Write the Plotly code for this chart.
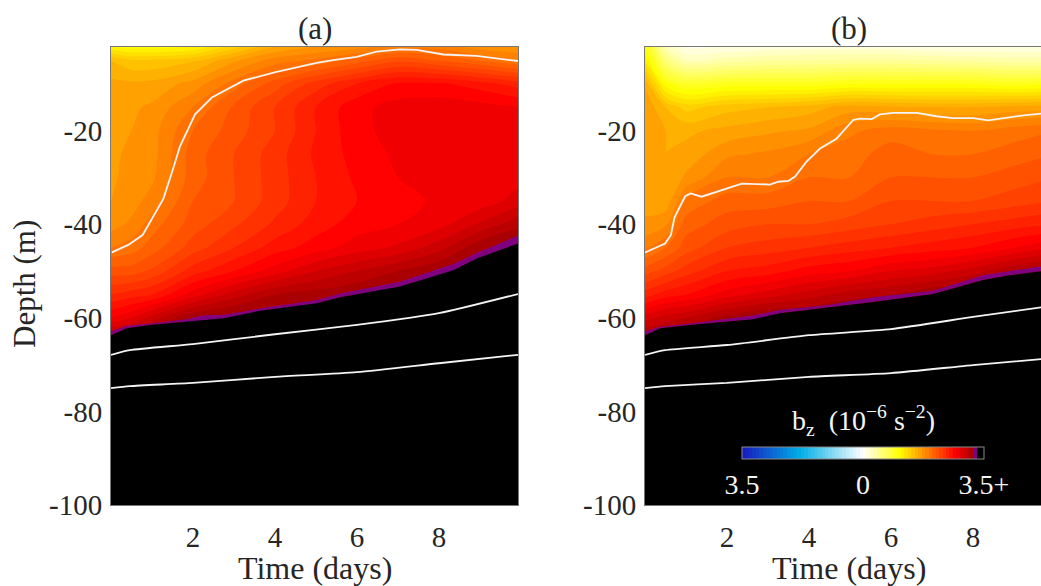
import plotly.graph_objects as go

# ---------- shared grid ----------
times = [0, 0.5, 1, 2, 3, 4, 5, 6, 7, 8, 9, 10]
depths = [-2, -5, -10, -15, -20, -25, -30, -35, -40, -45, -50, -55, -60, -65]

# b_z columns (one per time), rows by depth
field_a_cols = [
    [1.10, 1.50, 1.63, 1.68, 1.68, 1.68, 1.68, 1.70, 1.76, 1.90, 2.15, 2.40, 2.70, 3.20],
    [1.05, 1.42, 1.62, 1.68, 1.70, 1.72, 1.74, 1.76, 1.82, 1.95, 2.15, 2.45, 2.80, 3.20],
    [1.05, 1.42, 1.63, 1.72, 1.76, 1.76, 1.78, 1.84, 1.95, 2.05, 2.22, 2.50, 2.95, 3.20],
    [1.10, 1.48, 1.74, 1.90, 2.00, 2.05, 2.05, 2.10, 2.15, 2.25, 2.45, 2.75, 3.20, 3.30],
    [1.35, 1.68, 1.95, 2.12, 2.15, 2.20, 2.20, 2.20, 2.28, 2.40, 2.60, 2.95, 3.25, 3.30],
    [1.60, 1.85, 2.15, 2.30, 2.30, 2.35, 2.35, 2.35, 2.42, 2.55, 2.75, 3.10, 3.30, 3.30],
    [1.70, 1.92, 2.35, 2.50, 2.50, 2.52, 2.50, 2.50, 2.55, 2.65, 2.90, 3.15, 3.30, 3.30],
    [1.75, 2.05, 2.50, 2.67, 2.67, 2.64, 2.62, 2.60, 2.65, 2.75, 3.00, 3.20, 3.30, 3.30],
    [1.85, 2.18, 2.62, 2.74, 2.74, 2.72, 2.70, 2.66, 2.70, 2.82, 3.10, 3.30, 3.30, 3.30],
    [1.85, 2.10, 2.62, 2.76, 2.78, 2.76, 2.74, 2.72, 2.76, 2.96, 3.20, 3.30, 3.30, 3.30],
    [1.75, 2.00, 2.55, 2.74, 2.76, 2.76, 2.74, 2.74, 2.92, 3.18, 3.30, 3.30, 3.30, 3.30],
    [1.70, 1.90, 2.45, 2.70, 2.74, 2.78, 2.78, 2.85, 3.08, 3.25, 3.30, 3.30, 3.30, 3.30],
]
field_b_cols = [
    [1.00, 1.20, 1.58, 1.68, 1.68, 1.66, 1.63, 1.66, 1.72, 1.88, 2.15, 2.45, 2.85, 3.20],
    [0.30, 0.55, 1.05, 1.50, 1.60, 1.60, 1.60, 1.63, 1.78, 2.00, 2.25, 2.55, 2.95, 3.20],
    [0.08, 0.30, 0.90, 1.36, 1.58, 1.63, 1.72, 1.92, 2.05, 2.15, 2.35, 2.60, 3.00, 3.20],
    [0.10, 0.35, 0.95, 1.46, 1.63, 1.78, 1.90, 2.05, 2.15, 2.30, 2.50, 2.75, 3.15, 3.30],
    [0.12, 0.40, 0.95, 1.50, 1.68, 1.82, 1.90, 2.05, 2.20, 2.35, 2.55, 2.85, 3.25, 3.30],
    [0.15, 0.40, 0.95, 1.55, 1.72, 1.90, 2.00, 2.10, 2.20, 2.40, 2.65, 2.95, 3.25, 3.30],
    [0.15, 0.42, 1.00, 1.65, 1.88, 1.95, 2.00, 2.10, 2.25, 2.45, 2.70, 3.05, 3.30, 3.30],
    [0.15, 0.42, 1.00, 1.62, 1.95, 2.05, 2.10, 2.20, 2.30, 2.50, 2.80, 3.10, 3.30, 3.30],
    [0.10, 0.40, 1.00, 1.60, 1.92, 2.00, 2.10, 2.20, 2.35, 2.55, 2.85, 3.20, 3.30, 3.30],
    [0.10, 0.38, 1.00, 1.60, 1.90, 2.00, 2.10, 2.20, 2.40, 2.60, 2.95, 3.25, 3.30, 3.30],
    [0.10, 0.35, 0.95, 1.64, 1.95, 2.05, 2.15, 2.25, 2.45, 2.70, 3.10, 3.25, 3.30, 3.30],
    [0.10, 0.35, 1.00, 1.64, 2.00, 2.10, 2.20, 2.30, 2.50, 2.80, 3.20, 3.30, 3.30, 3.30],
]

# ---------- panel (a) lines ----------
a_iso_t = [0.02, 0.42, 0.77, 1.03, 1.28, 1.48, 1.68, 1.89, 2.05, 2.46, 3.23, 4.04, 5.02, 5.42, 5.99, 6.48, 7.05, 7.46, 8.11, 8.92, 9.93]
a_iso_d = [-46.0, -44.4, -42.3, -38.4, -34.5, -29.1, -23.4, -19.5, -16.5, -12.9, -9.3, -7.4, -5.5, -4.9, -4.2, -3.1, -2.6, -2.7, -3.7, -4.0, -5.1]
a_edge_t = [0, 0.38, 0.95, 2.74, 3.63, 5.02, 5.59, 7.05, 8.35, 8.92, 9.93]
a_purple_top = [-62.9, -61.7, -61.2, -59.4, -58.0, -56.2, -54.8, -52.3, -48.5, -46.2, -42.4]
a_purple_bot = [-63.7, -62.2, -61.5, -60.1, -58.5, -56.9, -55.6, -53.3, -49.8, -47.3, -44.1]
low_t_a = [0, 0.46, 2, 4, 6, 8, 9.93]
a_line2 = [-67.9, -66.9, -65.6, -63.5, -61.5, -59.0, -54.9]
a_line3 = [-75.0, -74.6, -73.9, -72.6, -71.6, -69.7, -67.9]

# ---------- panel (b) lines ----------
b_iso_t = [0.0, 0.49, 0.63, 0.72, 0.98, 1.11, 1.38, 1.87, 2.36, 3.05, 3.25, 3.50, 3.66, 3.94, 4.27, 4.67, 5.08, 5.24, 5.53, 5.73, 6.06, 6.63, 7.11, 7.52, 8.01, 8.37, 8.78, 9.23, 9.70]
b_iso_d = [-46.0, -44.1, -42.3, -38.5, -34.0, -33.4, -34.1, -32.7, -31.3, -31.5, -30.9, -30.7, -29.8, -26.6, -23.8, -21.7, -17.7, -17.4, -17.5, -16.5, -16.2, -16.2, -16.9, -17.3, -17.3, -17.8, -17.2, -16.7, -16.3]
b_edge_t = [0, 0.37, 1.10, 2.64, 3.29, 4.43, 5.57, 7.03, 8.25, 8.82, 9.70]
b_purple_top = [-62.9, -61.9, -61.2, -59.5, -58.3, -57.3, -55.6, -54.2, -50.9, -50.1, -48.9]
b_purple_bot = [-63.7, -62.2, -61.5, -60.3, -59.0, -57.8, -56.6, -54.9, -51.9, -51.0, -50.0]
low_t_b = [0, 0.49, 2, 4, 6, 8, 9.70]
b_line2 = [-67.9, -66.9, -65.8, -63.7, -62.4, -59.8, -57.7]
b_line3 = [-75.0, -74.6, -73.9, -72.6, -71.8, -70.1, -68.8]

y_ticks = [-100, -80, -60, -40, -20]
y_labels = ["-100", "-80", "-60", "-40", "-20"]
x_ticks = [2, 4, 6, 8]
cbar_ticks = [-3.5, 0, 3.5]
cbar_labels = ["3.5", "0", "3.5+"]

colorscale = [
    [0.0, "rgb(25,25,190)"], [0.24, "rgb(0,175,230)"], [0.5, "rgb(255,255,255)"],
    [0.652, "rgb(255,255,0)"], [0.88, "rgb(255,0,0)"], [0.955, "rgb(165,0,0)"],
    [0.958, "rgb(128,0,128)"], [0.968, "rgb(128,0,128)"], [0.972, "rgb(0,0,0)"], [1.0, "rgb(0,0,0)"],
]

# The page's body margin is removed below, so the figure fills the window.
W, H = 1041, 586
SERIF = "Liberation Serif, serif"
TXT = "#262626"


def fx(px):
    return px / W


def fy(py):
    return (H - py) / H


fig = go.Figure()


def transpose(cols):
    return [list(r) for r in zip(*cols)]


def panel(xa, ya, cols, iso_t, iso_d, edge_t, ptop, pbot, low_t, l2, l3, scale):
    common = dict(xaxis=xa, yaxis=ya, hoverinfo="skip", showlegend=False)
    fig.add_trace(go.Contour(
        x=times, y=depths, z=transpose(cols), colorscale=colorscale, zmin=-3.5, zmax=3.5,
        autocontour=False, contours=dict(start=-3.5, end=3.5, size=0.1, coloring="fill", showlines=False),
        line=dict(width=0), showscale=scale,
        colorbar=dict(
            orientation="h", x=fx(742), xanchor="left", y=fy(447), yanchor="top",
            lenmode="pixels", len=242, thicknessmode="pixels", thickness=12, xpad=0, ypad=0,
            outlinecolor="#888888", outlinewidth=1, ticks="", tickvals=cbar_ticks, ticktext=cbar_labels,
            tickfont=dict(family=SERIF, size=28, color="#f5f5f5"),
        ) if scale else None,
        xaxis=xa, yaxis=ya, hoverinfo="skip", showlegend=False))
    # purple band and black lower region
    fig.add_trace(go.Scatter(x=edge_t, y=ptop, mode="lines", line=dict(width=0, color="#800080"), **common))
    fig.add_trace(go.Scatter(x=edge_t, y=pbot, mode="lines", line=dict(width=0, color="#800080"),
                             fill="tonexty", fillcolor="#800080", **common))
    fig.add_trace(go.Scatter(x=[edge_t[0], edge_t[-1]], y=[-100, -100], mode="lines", line=dict(width=0, color="#000"), **common))
    fig.add_trace(go.Scatter(x=edge_t, y=pbot, mode="lines", line=dict(width=0, color="#000"),
                             fill="tonexty", fillcolor="#000000", **common))
    fig.add_trace(go.Scatter(x=iso_t, y=iso_d, mode="lines", line=dict(color="#f4f4f4", width=1.8), **common))
    for ty in (l2, l3):
        fig.add_trace(go.Scatter(x=low_t, y=ty, mode="lines", line=dict(color="#f4f4f4", width=1.8, shape="spline", smoothing=0.6), **common))


panel("x", "y", field_a_cols, a_iso_t, a_iso_d, a_edge_t, a_purple_top, a_purple_bot, low_t_a, a_line2, a_line3, False)
panel("x2", "y2", field_b_cols, b_iso_t, b_iso_d, b_edge_t, b_purple_top, b_purple_bot, low_t_b, b_line2, b_line3, True)

ax_font = dict(family=SERIF, size=29, color=TXT)
title_font = dict(family=SERIF, size=31, color=TXT)
label_font = dict(family=SERIF, size=32, color=TXT)
xcommon = dict(tickvals=x_ticks, ticks="", showgrid=False, zeroline=False, showline=True, mirror=True,
               linecolor="#777777", linewidth=1, tickfont=ax_font, ticklabelstandoff=6)
ycommon = dict(range=[-100, -2.1], tickvals=y_ticks, ticktext=y_labels, ticks="", showgrid=False, zeroline=False,
               showline=True, mirror=True, linecolor="#777777", linewidth=1, tickfont=ax_font, ticklabelstandoff=2)

x1 = dict(xcommon, domain=[fx(111), fx(518)], range=[0, 9.93], anchor="y")
x2 = dict(xcommon, domain=[fx(645), 1], range=[0, 9.66], anchor="y2")
y1 = dict(ycommon, domain=[fy(505), fy(47)], anchor="x")
y2 = dict(ycommon, domain=[fy(505), fy(47)], anchor="x2")


def note(text, px, py, font, **kw):
    return dict(text=text, x=fx(px), y=fy(py), xref="paper", yref="paper", xanchor="center",
                yanchor="middle", showarrow=False, font=font, **kw)


fig.update_layout(
    width=W, height=H, margin=dict(l=0, r=0, t=0, b=0, autoexpand=False),
    paper_bgcolor="white", plot_bgcolor="black",
    xaxis=x1, yaxis=y1, xaxis2=x2, yaxis2=y2,
    annotations=[
        note("(a)", 315, 28, title_font),
        note("(b)", 849, 28, title_font),
        note("Time (days)", 315, 568, label_font),
        note("Time (days)", 849, 568, label_font),
        note("Depth (m)", 24, 284, title_font, textangle=-90),
        note("b<sub>z</sub>  (10<sup>−6</sup> s<sup>−2</sup>)", 863, 420,
             dict(family=SERIF, size=28, color="#f5f5f5")),
    ],
)
fig.write_html("out.html", default_width=f"{W}px", default_height=f"{H}px",
               config=dict(displayModeBar=False),
               post_script="document.body.style.margin='0';document.documentElement.style.overflow='hidden';")
